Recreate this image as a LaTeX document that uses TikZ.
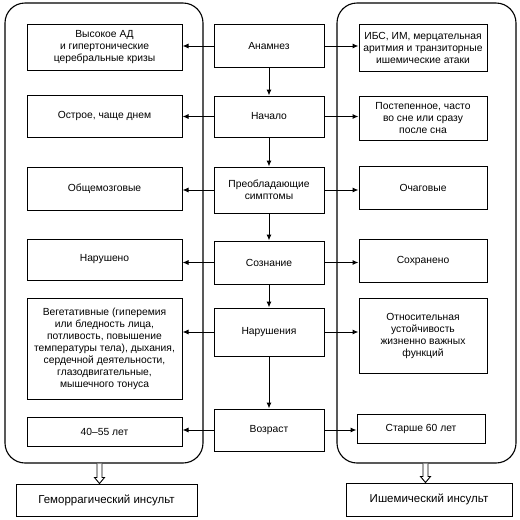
\documentclass[tikz,border=0pt]{standalone}
\usepackage{fontspec}
\setmainfont{Liberation Sans}
\usetikzlibrary{arrows.meta,calc}
\begin{document}
\begin{tikzpicture}[x=1pt,y=-1pt,
  box/.style={draw, line width=1pt, align=center, inner sep=0pt,
    font=\fontsize{10.3pt}{12pt}\selectfont},
  frame/.style={draw, line width=1.1pt, rounded corners=20pt, inner sep=0pt},
  arr/.style={line width=1pt, -{Latex[length=6pt,width=5pt]}},
  hol/.style={line width=0.9pt, fill=white}
]
\useasboundingbox (0,0) rectangle (520,520);
% containers
\node[frame, minimum width=198pt, minimum height=460pt] (LC) at (104,233) {};
\node[frame, minimum width=179pt, minimum height=460pt] (RC) at (426.5,233) {};
% central column
\node[box, minimum width=110pt, minimum height=43pt] (C1) at (269,46) {Анамнез};
\node[box, minimum width=110pt, minimum height=41pt] (C2) at (269,116.5) {Начало};
\node[box, minimum width=110pt, minimum height=46pt] (C3) at (269,190) {Преобладающие\\симптомы};
\node[box, minimum width=110pt, minimum height=43pt] (C4) at (269,262.5) {Сознание};
\node[box, minimum width=110pt, minimum height=48pt] (C5) at (269,332) {Нарушения};
\node[box, minimum width=110pt, minimum height=42pt] (C6) at (269,430) {Возраст};
% left column
\node[box, minimum width=155pt, minimum height=46pt] (L1) at (104.5,47) {Высокое АД\\и гипертонические\\церебральные кризы};
\node[box, minimum width=155pt, minimum height=42pt] (L2) at (104.5,116) {Острое, чаще днем};
\node[box, minimum width=155pt, minimum height=43pt] (L3) at (104.5,188.5) {Общемозговые};
\node[box, minimum width=155pt, minimum height=41pt] (L4) at (104.5,259.5) {Нарушено};
\node[box, minimum width=155pt, minimum height=101pt] (L5) at (104.5,348.5) {Вегетативные (гиперемия\\или бледность лица,\\потливость, повышение\\температуры тела), дыхания,\\сердечной деятельности,\\глазодвигательные,\\мышечного тонуса};
\node[box, minimum width=155pt, minimum height=29pt] (L6) at (104.5,431.5) {40–55 лет};
% right column
\node[box, minimum width=128pt, minimum height=47pt] (R1) at (423,47.5) {ИБС, ИМ, мерцательная\\аритмия и транзиторные\\ишемические атаки};
\node[box, minimum width=128pt, minimum height=44pt] (R2) at (423,118) {Постепенное, часто\\во сне или сразу\\после сна};
\node[box, minimum width=128pt, minimum height=43pt] (R3) at (423,187.5) {Очаговые};
\node[box, minimum width=128pt, minimum height=43pt] (R4) at (423,260.5) {Сохранено};
\node[box, minimum width=128pt, minimum height=75pt] (R5) at (423,335.5) {Относительная\\устойчивость\\жизненно важных\\функций};
\node[box, minimum width=128pt, minimum height=29pt] (R6) at (421,428.5) {Старше 60 лет};
% outcome boxes
\node[box, minimum width=181pt, minimum height=32pt, font=\fontsize{11.5pt}{13pt}\selectfont] (HB) at (106.5,500) {Геморрагический инсульт};
\node[box, minimum width=166pt, minimum height=33pt, font=\fontsize{11.5pt}{13pt}\selectfont] (IB) at (429,499.5) {Ишемический инсульт};
% vertical arrows
\draw[arr] (C1) -- (C2);
\draw[arr] (C2) -- (C3);
\draw[arr] (C3) -- (C4);
\draw[arr] (C4) -- (C5);
\draw[arr] (C5) -- (C6);
% horizontal arrows
\foreach \c/\l/\r in {C1/L1/R1, C2/L2/R2, C3/L3/R3, C4/L4/R4, C5/L5/R5, C6/L6/R6}{
  \draw[arr] (\c.west) -- (\c.west -| \l.east);
  \draw[arr] (\c.east) -- (\c.east -| \r.west);
}
% hollow arrows
\coordinate (ha) at (LC.south -| 99.5,0);
\coordinate (hb) at (HB.north -| 99.5,0);
\draw[hol] ($(ha)+(-2.5,0)$) -- ($(hb)+(-2.5,-6)$) -- ($(hb)+(-5,-6)$) -- (hb)
  -- ($(hb)+(5,-6)$) -- ($(hb)+(2.5,-6)$) -- ($(ha)+(2.5,0)$);
\coordinate (hc) at (RC.south -| 425.5,0);
\coordinate (hd) at (IB.north -| 425.5,0);
\draw[hol] ($(hc)+(-2.5,0)$) -- ($(hd)+(-2.5,-6)$) -- ($(hd)+(-5,-6)$) -- (hd)
  -- ($(hd)+(5,-6)$) -- ($(hd)+(2.5,-6)$) -- ($(hc)+(2.5,0)$);
\end{tikzpicture}
\end{document}
